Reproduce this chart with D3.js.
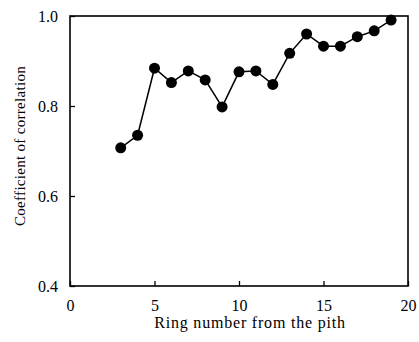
<!DOCTYPE html>
<html>
<head>
<meta charset="utf-8">
<script src="https://cdn.jsdelivr.net/npm/d3@7"></script>
<style>
  body { margin: 0; background: #fff; }
  svg text { font-family: "Liberation Serif", "DejaVu Serif", serif; fill: #000; }
</style>
</head>
<body>
<svg id="chart" width="419" height="342"></svg>
<script>
var rings = [3, 4, 5, 6, 7, 8, 9, 10, 11, 12, 13, 14, 15, 16, 17, 18, 19];
var coefs = [0.707, 0.735, 0.884, 0.852, 0.878, 0.858, 0.798, 0.876, 0.878, 0.848, 0.917, 0.960, 0.933, 0.933, 0.954, 0.967, 0.991];
var xTicks = [0, 5, 10, 15, 20];
var yTicks = [0.4, 0.6, 0.8, 1.0];

var svg = d3.select("svg#chart"),
    margin = { top: 16, right: 11, bottom: 56, left: 70 },
    width = 419 - margin.left - margin.right,
    height = 342 - margin.top - margin.bottom,
    g = svg.append("g").attr("transform", "translate(" + margin.left + "," + margin.top + ")");

var x = d3.scaleLinear().domain([0, 20]).range([0, width]);
var y = d3.scaleLinear().domain([0.4, 1.0]).range([height, 0]);

var data = rings.map(function (r, i) { return { ring: r, value: coefs[i] }; });

// axes with inward ticks
var xAxis = g.append("g")
    .attr("transform", "translate(0," + height + ")")
    .call(d3.axisBottom(x).tickValues(xTicks).tickSize(-5).tickPadding(14).tickFormat(d3.format("d")));
var yAxis = g.append("g")
    .call(d3.axisLeft(y).tickValues(yTicks).tickSize(-5).tickPadding(12).tickFormat(d3.format(".1f")));

[xAxis, yAxis].forEach(function (a) {
    a.select(".domain").remove();
    a.selectAll("line").attr("stroke", "#000").attr("stroke-width", 1.3);
    a.selectAll("text").style("font-size", "16px");
});

// frame
g.append("rect")
    .attr("width", width)
    .attr("height", height)
    .attr("fill", "none")
    .attr("stroke", "#000")
    .attr("stroke-width", 1.6);

var line = d3.line()
    .x(function (d) { return x(d.ring); })
    .y(function (d) { return y(d.value); });

g.append("path")
    .datum(data)
    .attr("fill", "none")
    .attr("stroke", "#000")
    .attr("stroke-width", 1.5)
    .attr("d", line);

g.selectAll("circle")
    .data(data)
    .enter().append("circle")
    .attr("cx", function (d) { return x(d.ring); })
    .attr("cy", function (d) { return y(d.value); })
    .attr("r", 5.5)
    .attr("fill", "#000");

svg.append("text")
    .attr("x", 250)
    .attr("y", 328)
    .attr("text-anchor", "middle")
    .style("font-size", "16px")
    .style("letter-spacing", "0.8px")
    .text("Ring number from the pith");

svg.append("text")
    .attr("transform", "translate(25,146) rotate(-90)")
    .attr("text-anchor", "middle")
    .style("font-size", "15px")
    .style("letter-spacing", "0.3px")
    .text("Coefficient of correlation");
</script>
</body>
</html>
